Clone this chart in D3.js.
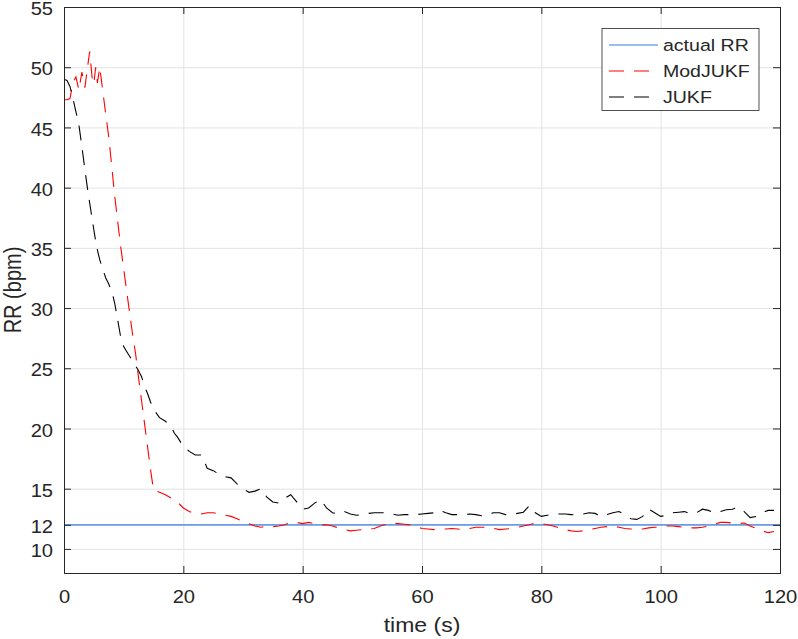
<!DOCTYPE html>
<html>
<head>
<meta charset="utf-8">
<script src="https://cdn.jsdelivr.net/npm/d3@7"></script>
<style>
  html, body { margin: 0; padding: 0; background: #fff; }
  svg { display: block; font-family: "Liberation Sans", Arial, Helvetica, sans-serif; }
</style>
</head>
<body>
<svg id="chart" width="798" height="639"></svg>
<script>
// ---------- data ----------
const xTicks = [0, 20, 40, 60, 80, 100, 120];
const yTicks = [10, 12, 15, 20, 25, 30, 35, 40, 45, 50, 55];
const seriesNames = ["actual RR", "ModJUKF", "JUKF"];

const actualT = [0, 120];
const actualRR = [12, 12];

const modT = [0,0.5,1,1.5,2,2.5,3,3.5,4,4.3,4.7,5,5.3,5.6,6,6.5,7,7.5,8,8.5,9,9.5,10,10.5,11,11.5,12,12.5,13,13.5,14,14.5,
  15,16,17,18,19,20,21,22,23,24,25,26,27,28,29,30,31,32,33,34,35,36,37,38,39,40,41,42,43,44,45,46,47,48,49,50,
  51,52,53,54,55,56,57,58,59,60,61,62,63,64,65,66,67,68,69,70,71,72,73,74,75,76,77,78,79,80,81,82,83,84,85,86,87,88,89,90,
  91,92,93,94,95,96,97,98,99,100,101,102,103,104,105,106,107,108,109,110,111,112,113,114,115,116,117,118,119];
const modRR = [47.3,47.3,47.4,48.7,49.2,48.1,49.6,48.3,50.2,51.3,49.2,48.6,50.0,48.7,50.0,48.0,46.1,44.2,41.8,39.3,37.2,35.1,33.3,31.4,29.6,27.8,26.2,24.2,22.3,20.4,18.5,16.6,
  14.9,14.7,14.5,14.2,13.9,13.4,13.1,12.9,12.9,13.0,13.0,12.9,12.8,12.7,12.5,12.3,12.1,11.9,11.8,11.9,11.85,11.9,12.0,12.2,12.2,12.1,12.2,12.1,12.0,12.0,11.9,11.75,11.6,11.5,11.55,11.6,
  11.65,11.7,11.9,12.05,12.15,12.1,12.05,12.0,11.85,11.7,11.65,11.6,11.65,11.65,11.7,11.65,11.6,11.7,11.8,11.8,11.8,11.7,11.6,11.65,11.7,11.8,11.9,12.0,12.15,12.1,12.0,11.9,11.75,11.6,11.5,11.45,11.5,11.6,11.7,11.8,
  11.85,11.9,11.8,11.7,11.65,11.65,11.65,11.75,11.8,11.8,11.9,11.9,11.85,11.8,11.75,11.75,11.8,11.9,12.05,12.2,12.2,12.15,12.1,12.15,11.9,11.7,11.5,11.35,11.45];

const jukfT = [0,0.5,1,1.5,2,2.5,3,3.5,4,4.5,5,5.5,6,6.5,7,7.5,8,8.5,9,9.5,10,10.5,11,11.5,12,12.5,13,13.5,14,14.5,
  15,16,17,18,18.5,19,20,21,22,23,23.5,24,25,26,27,28,29,30,31,32,33,34,35,36,37,38,39,40,41,42,43,44,45,46,47,48,49,50,
  51,52,53,54,55,56,57,58,59,60,61,62,63,64,65,66,67,68,69,70,71,72,73,74,75,76,77,78,79,80,81,82,83,84,85,86,87,88,89,90,
  91,92,93,94,95,96,97,98,99,100,101,102,103,104,105,106,107,108,109,110,111,112,113,114,115,116,117,118,119];
const jukfRR = [49.0,48.9,48.4,47.4,46.3,45.2,43.4,41.5,39.7,38.1,36.5,35.0,34.0,33.2,32.5,32.0,31.4,30.4,29.0,27.6,26.8,26.4,26.0,25.6,25.2,24.8,24.3,23.5,22.9,22.2,
  21.6,20.9,20.6,20.1,19.6,19.3,18.5,18.1,17.8,17.8,17.3,16.7,16.5,16.2,16.0,15.9,15.4,15.0,14.7,14.8,15.0,14.3,13.9,13.8,14.2,14.5,13.9,13.3,13.4,13.8,14.1,13.4,13.0,12.9,13.1,12.9,12.8,12.85,
  12.95,13.0,13.0,13.0,12.9,12.8,12.85,12.85,12.85,12.9,12.95,13.0,13.2,13.0,12.85,12.85,12.85,12.9,12.85,12.75,12.85,13.0,13.0,12.85,12.85,12.95,13.05,13.6,13.0,12.7,12.8,12.9,12.9,12.9,12.85,12.8,12.9,13.0,12.95,12.7,
  12.85,13.0,13.1,12.85,12.5,12.45,12.7,13.3,13.0,12.7,12.8,13.0,13.05,13.1,12.9,13.0,13.3,13.2,13.0,13.1,13.25,13.3,13.45,13.1,12.6,12.7,13.0,13.2,13.2];

// ---------- layout ----------
const svg = d3.select("#chart");
const M = { left: 64, right: 780, top: 7, bottom: 573 };
const axisColor = "#262626";
const SX = 1.15; // horizontal text stretch
const x = d3.scaleLinear().domain([0, 120]).range([M.left, M.right]);
const y = d3.scaleLinear().domain([8, 55]).range([M.bottom, M.top]);
const W = M.right - M.left, H = M.bottom - M.top;

svg.append("rect").attr("x", M.left).attr("y", M.top).attr("width", W).attr("height", H).attr("fill", "#fff");

// grid
const gx = svg.append("g").attr("transform", `translate(0,${M.bottom})`)
  .call(d3.axisBottom(x).tickValues(xTicks).tickSize(-H).tickFormat(""));
const gy = svg.append("g").attr("transform", `translate(${M.left},0)`)
  .call(d3.axisLeft(y).tickValues(yTicks).tickSize(-W).tickFormat(""));
[gx, gy].forEach(g => {
  g.select(".domain").remove();
  g.selectAll("line").attr("stroke", "#e3e3e3").attr("stroke-width", 1);
});

// clip
svg.append("clipPath").attr("id", "clip").append("rect")
  .attr("x", M.left).attr("y", M.top).attr("width", W).attr("height", H);

const line = d3.line().x(d => x(d[0])).y(d => y(d[1]));
const plot = svg.append("g").attr("clip-path", "url(#clip)");

const colors = ["#3b7de0", "#ff0000", "#000000"];
const dashes = [null, "15,10", "15,10"];
const datasets = [
  d3.zip(actualT, actualRR),
  d3.zip(modT, modRR),
  d3.zip(jukfT, jukfRR)
];
datasets.forEach((ds, i) => {
  plot.append("path").datum(ds)
    .attr("d", line).attr("fill", "none")
    .attr("stroke", colors[i]).attr("stroke-width", 1.1)
    .attr("stroke-dasharray", dashes[i]);
});

// axes
const fontSize = 17.5;
const ax = svg.append("g").attr("transform", `translate(0,${M.bottom})`)
  .call(d3.axisBottom(x).tickValues(xTicks).tickSize(-7).tickPadding(18));
const ay = svg.append("g").attr("transform", `translate(${M.left},0)`)
  .call(d3.axisLeft(y).tickValues(yTicks).tickSize(-7).tickPadding(11));
const at = svg.append("g").attr("transform", `translate(0,${M.top})`)
  .call(d3.axisTop(x).tickValues(xTicks).tickSize(-7).tickFormat(""));
const ar = svg.append("g").attr("transform", `translate(${M.right},0)`)
  .call(d3.axisRight(y).tickValues(yTicks).tickSize(-7).tickFormat(""));
[ax, ay, at, ar].forEach(g => {
  g.select(".domain").attr("stroke", axisColor).attr("stroke-width", 1);
  g.selectAll(".tick line").attr("stroke", axisColor).attr("stroke-width", 1);
  g.selectAll("text").attr("fill", axisColor).attr("font-size", fontSize)
    .attr("font-family", "'Liberation Sans', Arial, Helvetica, sans-serif");
});
ax.selectAll("text").attr("transform", `scale(${SX},1)`);
ay.selectAll("text").attr("x", -11 / SX).attr("dy", "0.44em").attr("transform", `scale(${SX},1)`);

// axis titles
svg.append("text").attr("transform", `translate(${(M.left + M.right) / 2},632) scale(${SX},1)`)
  .attr("text-anchor", "middle").attr("font-size", 20).attr("fill", axisColor)
  .text("time (s)");
svg.append("text").attr("transform", `translate(21,${(M.top + M.bottom) / 2}) rotate(-90) scale(1,${SX})`)
  .attr("text-anchor", "middle").attr("font-size", 20).attr("fill", axisColor)
  .text("RR (bpm)");

// legend
const lg = svg.append("g");
lg.append("rect").attr("x", 602).attr("y", 28.5).attr("width", 157).attr("height", 82)
  .attr("fill", "#fff").attr("stroke", axisColor).attr("stroke-width", 0.8);
seriesNames.forEach((name, i) => {
  const yy = 45 + i * 26;
  lg.append("line").attr("x1", 609).attr("x2", 658).attr("y1", yy).attr("y2", yy)
    .attr("stroke", colors[i]).attr("stroke-width", 1.1)
    .attr("stroke-dasharray", i === 0 ? null : "15,10");
  lg.append("text").attr("transform", `translate(663,${yy}) scale(${SX},1)`).attr("dy", "0.36em")
    .attr("font-size", 17).attr("fill", axisColor).text(name);
});
</script>
</body>
</html>
